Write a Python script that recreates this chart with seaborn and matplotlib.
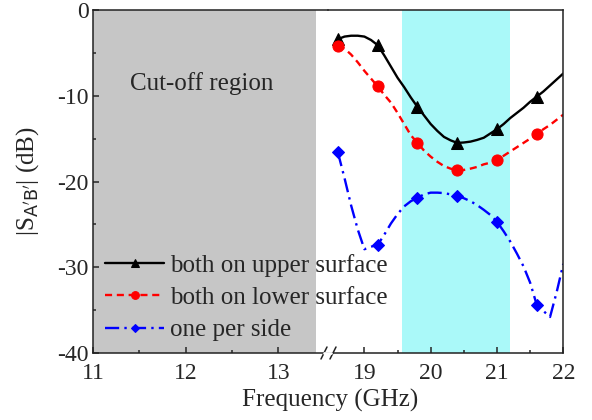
import matplotlib
matplotlib.use("Agg")
import matplotlib.pyplot as plt
import seaborn as sns
from matplotlib.lines import Line2D

# ---------------------------------------------------------------------
# data (GHz, dB)
# ---------------------------------------------------------------------
freq = [18.6, 18.7, 18.8, 18.9, 19.0, 19.1, 19.2, 19.3, 19.4, 19.5,
        19.6, 19.7, 19.8, 19.9, 20.0, 20.1, 20.2, 20.3, 20.4, 20.5,
        20.6, 20.7, 20.8, 20.9, 21.0, 21.1, 21.2, 21.3, 21.4, 21.5,
        21.6, 21.7, 21.8, 21.9, 22.0]

upper = [-3.4, -3.1, -3.0, -3.0, -3.1, -3.5, -4.1, -5.3, -6.6, -7.9,
         -9.0, -10.2, -11.3, -12.3, -13.3, -14.1, -14.8, -15.2, -15.5, -15.45,
         -15.35, -15.15, -14.9, -14.4, -13.9, -13.3, -12.6, -12.0, -11.4, -10.7,
         -10.1, -9.5, -8.8, -8.1, -7.4]

lower = [-4.2, -4.5, -5.2, -6.1, -7.1, -8.0, -8.9, -9.9, -10.8, -12.0,
         -13.3, -14.6, -15.5, -16.4, -17.1, -17.7, -18.2, -18.5, -18.7, -18.65,
         -18.5, -18.3, -18.0, -17.8, -17.5, -17.0, -16.5, -16.0, -15.5, -15.0,
         -14.5, -13.9, -13.4, -12.8, -12.2]

per_side = [-16.6, -19.6, -22.8, -25.6, -27.9, -27.6, -27.4, -26.2, -24.9, -23.8,
            -22.9, -22.3, -21.9, -21.5, -21.3, -21.3, -21.35, -21.5, -21.7, -21.95,
            -22.3, -22.75, -23.3, -23.9, -24.7, -25.8, -27.0, -28.4, -29.9, -31.8,
            -34.4, -35.1, -35.8, -32.9, -29.6]

labels = ["both on upper surface", "both on lower surface", "one per side"]
cutoff_band = (11, 13.41)
pass_band = (19.57, 21.19)

# ---------------------------------------------------------------------
sns.set_style("ticks")
plt.rcParams["font.family"] = ["Liberation Serif", "DejaVu Serif"]
plt.rcParams["mathtext.fontset"] = "dejavusans"
plt.rcParams["axes.unicode_minus"] = False
plt.rcParams["xtick.direction"] = "in"
plt.rcParams["ytick.direction"] = "in"

fig = plt.figure(figsize=(5.92, 4.2), dpi=100)
ax_l = fig.add_axes([93 / 592, 67 / 420, 235 / 592, 343 / 420])
ax_r = fig.add_axes([328 / 592, 67 / 420, 235.3 / 592, 343 / 420])
ax_r.set_facecolor("none")

# left part: cut-off region
ax_l.axvspan(*cutoff_band, color="#c6c6c6", lw=0, zorder=0)
ax_l.set_xlim(11, 13.535)
ax_l.set_ylim(-40, 0)
ax_l.set_xticks([11, 12, 13])
ax_l.set_xticks([11.5, 12.5], minor=True)
ax_l.set_yticks([-40, -30, -20, -10, 0])
ax_l.set_yticks([-35, -25, -15, -5], minor=True)
ax_l.spines["right"].set_visible(False)
ax_l.text(11.4, -8.6, "Cut-off region", fontsize=18, ha="left", va="center")

# right part: measured curves
ax_r.axvspan(*pass_band, color="#aaf9f9", lw=0, zorder=0)
sns.lineplot(x=freq, y=upper, ax=ax_r, color="black", lw=1.7,
             marker="^", markersize=8, markevery=6, mec="black",
             label=labels[0])
sns.lineplot(x=freq, y=lower, ax=ax_r, color="red", lw=1.7,
             linestyle=(0, (3, 2)), marker="o", markersize=8, markevery=6,
             mec="red", label=labels[1])
sns.lineplot(x=freq, y=per_side, ax=ax_r, color="blue", lw=1.7,
             linestyle=(0, (6, 2.2, 1, 2.2)), marker="D", markersize=6.5,
             markevery=6, mec="blue", label=labels[2])
ax_r.set_xlim(18.451, 22)
ax_r.set_ylim(-40, 0)
ax_r.set_xticks([19, 20, 21, 22])
ax_r.set_xticks([19.5, 20.5, 21.5], minor=True)
ax_r.set_yticks([])
ax_r.spines["left"].set_visible(False)
handles, _ = ax_r.get_legend_handles_labels()
if ax_r.get_legend() is not None:
    ax_r.get_legend().remove()

for ax in (ax_l, ax_r):
    ax.set_xlabel("")
    ax.set_ylabel("")
    for s in ax.spines.values():
        s.set_linewidth(1.1)
        s.set_color("#222222")
    ax.tick_params(which="major", length=4, width=1.1, labelsize=17, pad=7,
                   top=False, right=False)
    ax.tick_params(which="minor", length=2.5, width=1.1, top=False, right=False)
ax_l.tick_params(axis="y", pad=3)

# axis break marks on the bottom axis
for dx in (-7, 2):
    x0 = (328 + dx) / 592
    fig.add_artist(Line2D([x0, x0 + 6 / 592], [61 / 420, 73 / 420],
                          color="#222222", lw=1.1))
fig.add_artist(Line2D([324 / 592, 331 / 592], [67 / 420, 67 / 420],
                      color="white", lw=2.0))

fig.text(330 / 592, 1 - 400 / 420, "Frequency (GHz)", fontsize=18,
         ha="center", va="center")
fig.text(28 / 592, 1 - 181 / 420, r"|S$_{\mathsf{A'B'}}$| (dB)", fontsize=18,
         ha="center", va="center", rotation=90)

fig.legend(handles, labels, loc="upper left",
           bbox_to_anchor=(105 / 592, 1 - 254 / 420),
           frameon=False, fontsize=18, handlelength=2.36, handletextpad=0.25,
           labelspacing=0.39, borderpad=0, borderaxespad=0, markerscale=0.7)

fig.savefig("out.png", dpi=100)
